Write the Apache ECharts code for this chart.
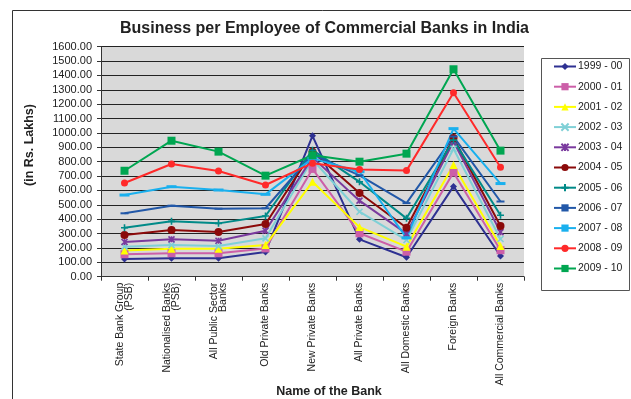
<!DOCTYPE html>
<html>
<head>
<meta charset="utf-8">
<script src="https://cdn.jsdelivr.net/npm/echarts@6/dist/echarts.min.js"></script>
<style>html,body{margin:0;padding:0;background:#fff;}#c{width:631px;height:399px;}</style>
</head>
<body>
<div id="c"></div>
<script>
var categories = ['State Bank Group\n(PSB)', 'Nationalised Banks\n(PSB)', 'All Public Sector\nBanks', 'Old Private Banks', 'New Private Banks', 'All Private Banks', 'All Domestic Banks', 'Foreign Banks', 'All Commercial Banks'];
var seriesNames = ['1999 - 00', '2000 - 01', '2001 - 02', '2002 - 03', '2003 - 04', '2004 - 05', '2005 - 06', '2006 - 07', '2007 - 08', '2008 - 09', '2009 - 10'];
var y1999 = [123, 128, 128, 172, 980, 260, 135, 628, 144];
var y2000 = [156, 163, 163, 197, 750, 302, 174, 725, 184];
var y2001 = [183, 195, 195, 220, 660, 345, 209, 777, 213];
var y2002 = [209, 220, 213, 267, 815, 452, 255, 890, 262];
var y2003 = [241, 260, 250, 320, 830, 529, 300, 940, 310];
var y2004 = [290, 325, 311, 367, 870, 582, 341, 965, 353];
var y2005 = [341, 385, 371, 422, 880, 660, 406, 950, 427];
var y2006 = [441, 494, 473, 476, 850, 705, 512, 975, 523];
var y2007 = [568, 626, 603, 573, 823, 730, 270, 1030, 648];
var y2008 = [652, 784, 735, 638, 790, 745, 738, 1280, 762];
var y2009 = [737, 946, 870, 703, 845, 800, 856, 1443, 877];
var yTickMin = 0, yTickMax = 1600, yTickStep = 100;

var values = [y1999, y2000, y2001, y2002, y2003, y2004, y2005, y2006, y2007, y2008, y2009];
var colors = ['#2e3192', '#cc5fa8', '#ffff00', '#7fd0d6', '#7a3a9e', '#8b0a0a', '#008a88', '#2258a8', '#1ab0ee', '#ff2a2a', '#00a651'];
var symbols = ['diamond', 'rect', 'triangle', 'path://M0,0L10,10M10,0L0,10', 'path://M0,0L10,10M10,0L0,10M5,0L5,10', 'circle', 'path://M5,0L5,10M0,5L10,5', 'rect', 'rect', 'circle', 'rect'];
var symSizes = [7, 8, 8, 6, 6, 8, 7, [8, 2], [10, 3], 7, 8];
var stroked = [false, false, false, true, true, false, true, false, false, false, false];

var sans = '"Liberation Sans", Arial, sans-serif';

var series = seriesNames.map(function (n, i) {
  return {
    name: n,
    type: 'line',
    data: values[i],
    symbol: symbols[i],
    symbolSize: symSizes[i],
    showSymbol: true,
    showAllSymbol: true,
    lineStyle: { color: colors[i], width: 2 },
    itemStyle: stroked[i] ? { color: colors[i], borderColor: colors[i], borderWidth: 1.6 } : { color: colors[i], borderWidth: 0 },
    emphasis: { disabled: true },
    animation: false
  };
});

var chart = echarts.init(document.getElementById('c'), null, { renderer: 'canvas' });
chart.setOption({
  animation: false,
  backgroundColor: '#ffffff',
  title: {
    text: 'Business per Employee of Commercial Banks in India',
    left: 115, top: 16,
    textStyle: { fontFamily: sans, fontSize: 16, fontWeight: 'bold', color: '#222' }
  },
  grid: {
    left: 101, right: 107, top: 46.7, bottom: 122.3,
    show: true, backgroundColor: '#d9d9d9', borderWidth: 0
  },
  legend: {
    orient: 'vertical',
    left: 553, top: 61,
    padding: 0,
    itemWidth: 22, itemHeight: 9,
    itemGap: 9.2,
    textStyle: { fontFamily: sans, fontSize: 10.5, lineHeight: 10, color: '#222', padding: [0, 0, 0, -3] },
    data: seriesNames
  },
  xAxis: {
    type: 'category',
    data: categories,
    boundaryGap: true,
    axisLine: { lineStyle: { color: '#333', width: 1 } },
    axisTick: { show: true, length: 4, alignWithLabel: false, lineStyle: { color: '#333' } },
    axisLabel: {
      interval: 0, rotate: 90, margin: 6,
      fontFamily: sans, fontSize: 10.5, lineHeight: 9, color: '#222'
    },
    splitLine: { show: false }
  },
  yAxis: {
    type: 'value',
    min: yTickMin, max: yTickMax, interval: yTickStep,
    axisLine: { show: true, lineStyle: { color: '#333', width: 1 } },
    axisTick: { show: true, length: 4, lineStyle: { color: '#333' } },
    axisLabel: {
      margin: 9,
      fontFamily: sans, fontSize: 11, color: '#222',
      formatter: function (v) { return v.toFixed(2); }
    },
    splitLine: { show: true, lineStyle: { color: '#222', width: 1 } }
  },
  graphic: [
    { type: 'rect', left: 10, top: 8, shape: { width: 700, height: 500 }, style: { fill: null, stroke: '#333', lineWidth: 1 }, silent: true, z: -10 },
    { type: 'rect', left: 539, top: 56, shape: { width: 88, height: 232 }, style: { fill: null, stroke: '#555', lineWidth: 1 }, silent: true },
    { type: 'text', x: 30, y: 145, rotation: Math.PI / 2, style: { text: '(in Rs. Lakhs)', fontFamily: sans, fontSize: 12.5, fontWeight: 'bold', fill: '#222', align: 'center', verticalAlign: 'middle' } },
    { type: 'text', x: 329, y: 392, style: { text: 'Name of the Bank', fontFamily: sans, fontSize: 12.5, fontWeight: 'bold', fill: '#222', align: 'center', verticalAlign: 'middle' } }
  ],
  series: series
});
</script>
</body>
</html>
